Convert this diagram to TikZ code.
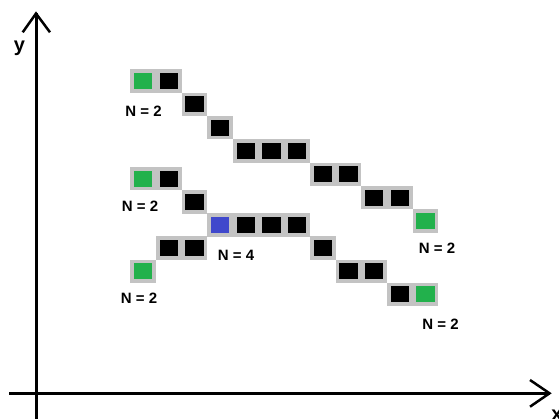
\documentclass[tikz,border=0pt]{standalone}
\usepackage{fontspec}
\setmainfont{Liberation Sans}
\definecolor{cellgray}{RGB}{195,195,195}
\definecolor{pgreen}{RGB}{34,177,76}
\definecolor{pblue}{RGB}{63,72,204}
\newcommand\topcell[4]{\node[cellbox,fill=#4] (#1) at ({143.3+25.65*(#2)},{80.95+23.33*(#3)}) {};}
\newcommand\midcell[4]{\node[cellbox,fill=#4] (#1) at ({143.3+25.65*(#2)},{178.85+23.08*(#3)}) {};}
\begin{document}
\begin{tikzpicture}[x=1pt,y=-1pt,
  cellbox/.style={rectangle,draw=cellgray,line width=3.7pt,minimum width=21.95pt,minimum height=19.6pt,inner sep=0pt,outer sep=0pt},
  lab/.style={font=\bfseries\fontsize{15}{15}\selectfont,inner sep=0pt},
  axislab/.style={font=\bfseries\fontsize{20}{20}\selectfont,inner sep=0pt},
  axis/.style={line width=3pt,black},
  chev/.style={line width=2.5pt,black,line cap=butt,line join=miter}]
\useasboundingbox (0,0) rectangle (559,419);
\clip (0,0) rectangle (559,419);
% axes
\coordinate (ybot) at (36,419);
\coordinate (ytop) at (36,13.5);
\coordinate (xleft) at (9.3,393.3);
\coordinate (xright) at (549.5,393.3);
\draw[axis] (ybot) -- (ytop);
\draw[axis] (xleft) -- (xright);
\draw[chev] (22.7,32.3) -- (ytop) -- (50,32.3);
\draw[chev] (530,380) -- (xright) -- (530,406.7);
\node[axislab] (ylab) at (19.5,48.5) {y};
\node[axislab] (xlab) at (557,415) {x};
% top chain
\topcell{t1}{0}{0}{pgreen}
\topcell{t2}{1}{0}{black}
\topcell{t3}{2}{1}{black}
\topcell{t4}{3}{2}{black}
\topcell{t5}{4}{3}{black}
\topcell{t6}{5}{3}{black}
\topcell{t7}{6}{3}{black}
\topcell{t8}{7}{4}{black}
\topcell{t9}{8}{4}{black}
\topcell{t10}{9}{5}{black}
\topcell{t11}{10}{5}{black}
\topcell{t12}{11}{6}{pgreen}
% middle chain
\midcell{m1}{0}{0}{pgreen}
\midcell{m2}{1}{0}{black}
\midcell{m3}{2}{1}{black}
\midcell{m4}{3}{2}{pblue}
\midcell{m5}{4}{2}{black}
\midcell{m6}{5}{2}{black}
\midcell{m7}{6}{2}{black}
\midcell{m8}{1}{3}{black}
\midcell{m9}{2}{3}{black}
\midcell{m10}{0}{4}{pgreen}
\midcell{m11}{7}{3}{black}
\midcell{m12}{8}{4}{black}
\midcell{m13}{9}{4}{black}
\midcell{m14}{10}{5}{black}
\midcell{m15}{11}{5}{pgreen}
% labels
\node[lab] (l1) at (143.5,111.7) {N = 2};
\node[lab] (l2) at (140,206.7) {N = 2};
\node[lab] (l3) at (236,255) {N = 4};
\node[lab] (l4) at (139,298.3) {N = 2};
\node[lab] (l5) at (437,248) {N = 2};
\node[lab] (l6) at (440.5,324) {N = 2};
\end{tikzpicture}
\end{document}
